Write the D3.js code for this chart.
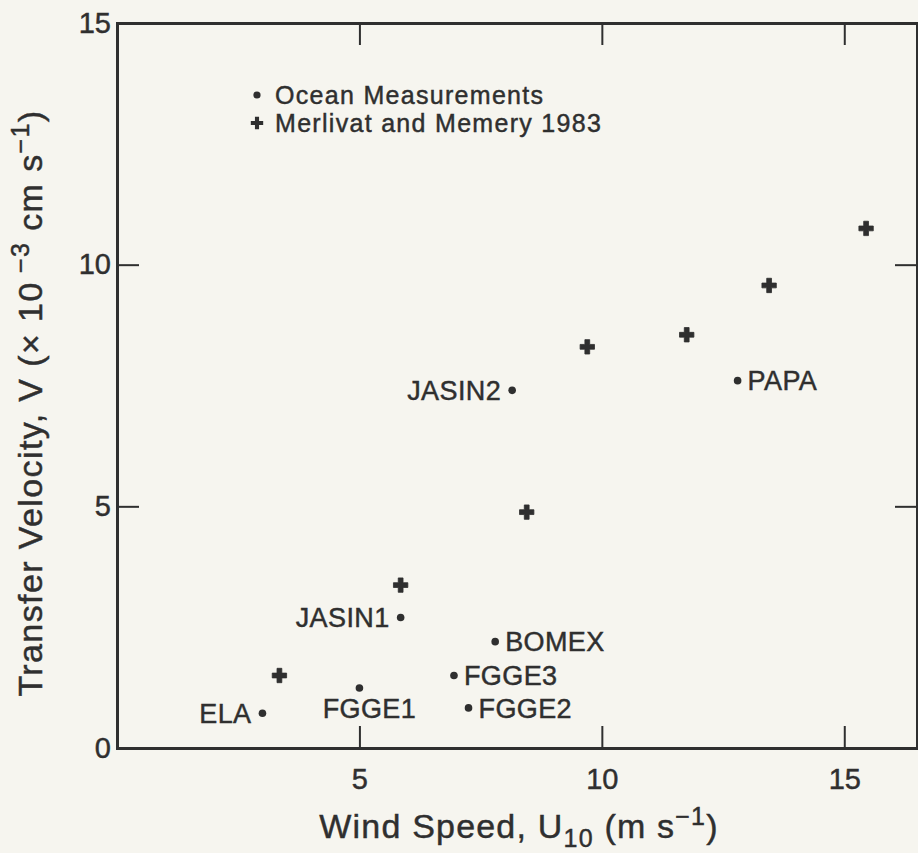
<!DOCTYPE html>
<html>
<head>
<meta charset="utf-8">
<script src="https://cdn.jsdelivr.net/npm/d3@7"></script>
<style>
  html, body { margin: 0; padding: 0; background: #f6f5ef; }
  svg { display: block; }
  text { font-family: "Liberation Sans", Arial, Helvetica, sans-serif; fill: #2f2f2f; stroke: #2f2f2f; stroke-width: 0.45px; }
</style>
</head>
<body>
<script>
'use strict';

// ocean measurements (dots)
const oceanNames = ['ELA', 'FGGE1', 'JASIN1', 'FGGE3', 'FGGE2', 'BOMEX', 'JASIN2', 'PAPA'];
const oceanWind  = [3.0, 5.0, 5.85, 6.95, 7.25, 7.8, 8.15, 12.8];
const oceanVel   = [0.72, 1.24, 2.7, 1.5, 0.83, 2.2, 7.4, 7.6];

// Merlivat and Memery 1983 (crosses)
const merlivatWind = [3.35, 5.85, 8.45, 9.7, 11.75, 13.45, 15.45];
const merlivatVel  = [1.5, 3.37, 4.88, 8.3, 8.55, 9.57, 10.75];

const xTicks = [5, 10, 15];
const yTicks = [0, 5, 10, 15];
const legendLabels = ['Ocean Measurements', 'Merlivat and Memery 1983'];

(function() {
  const W = 918, H = 853;
  const m = { left: 117, right: 917, top: 23, bottom: 748 };
  const ink = '#2f2f2f';

  const svg = d3.select('body').append('svg')
    .attr('width', W)
    .attr('height', H);

  svg.append('rect').attr('width', W).attr('height', H).attr('fill', '#f6f5ef');

  const x = d3.scaleLinear().domain([0, 16.5]).range([m.left, m.right]);
  const y = d3.scaleLinear().domain([0, 15]).range([m.bottom, m.top]);

  // frame axes, ticks pointing inward
  function styleAxis(g) {
    g.select('.domain').attr('stroke', ink).attr('stroke-width', 3);
    g.selectAll('.tick line').attr('stroke', ink).attr('stroke-width', 2);
    g.selectAll('.tick text').style('font-size', '29px').attr('fill', ink);
  }

  svg.append('g')
    .attr('transform', 'translate(0,' + m.bottom + ')')
    .call(d3.axisBottom(x).tickValues(xTicks).tickSizeInner(-22).tickSizeOuter(0).tickPadding(20))
    .call(styleAxis);

  svg.append('g')
    .attr('transform', 'translate(0,' + m.top + ')')
    .call(d3.axisTop(x).tickValues(xTicks).tickSizeInner(-22).tickSizeOuter(0).tickFormat(''))
    .call(styleAxis);

  svg.append('g')
    .attr('transform', 'translate(' + m.left + ',0)')
    .call(d3.axisLeft(y).tickValues(yTicks).tickSizeInner(-22).tickSizeOuter(0).tickPadding(6))
    .call(styleAxis)
    .selectAll('.tick line')
    .attr('display', (d) => (d === 0 || d === 15) ? 'none' : null);

  svg.append('g')
    .attr('transform', 'translate(' + m.right + ',0)')
    .call(d3.axisRight(y).tickValues(yTicks).tickSizeInner(-22).tickSizeOuter(0).tickFormat(''))
    .call(styleAxis);

  svg.selectAll('.domain').attr('stroke-linecap', 'square');

  // ocean data points
  const ocean = oceanNames.map((n, i) => ({ name: n, u: oceanWind[i], v: oceanVel[i] }));
  const merlivat = merlivatWind.map((u, i) => ({ u: u, v: merlivatVel[i] }));

  svg.selectAll('.dot')
    .data(ocean)
    .enter()
    .append('circle')
      .attr('class', 'dot')
      .attr('cx', (d) => x(d.u))
      .attr('cy', (d) => y(d.v))
      .attr('r', 3.8)
      .attr('fill', ink);

  const cross = d3.symbol().type(d3.symbolCross).size(115);
  svg.selectAll('.cross')
    .data(merlivat)
    .enter()
    .append('path')
      .attr('class', 'cross')
      .attr('d', cross)
      .attr('transform', (d) => 'translate(' + x(d.u) + ',' + y(d.v) + ')')
      .attr('fill', ink)
      .attr('stroke', ink)
      .attr('stroke-width', 0.8)
      .attr('stroke-linejoin', 'round');

  // where each name sits relative to its dot
  const side = { ELA: 'left', JASIN1: 'left', JASIN2: 'left', FGGE1: 'below' };
  svg.selectAll('.lbl')
    .data(ocean)
    .enter()
    .append('text')
      .attr('class', 'lbl')
      .attr('x', (d) => {
        const s = side[d.name];
        if (s === 'left') return x(d.u) - 11;
        if (s === 'below') return x(d.u) + 10;
        return x(d.u) + 10;
      })
      .attr('y', (d) => y(d.v) + (side[d.name] === 'below' ? 20 : 0))
      .attr('dy', '0.36em')
      .attr('text-anchor', (d) => side[d.name] === 'left' ? 'end' : side[d.name] === 'below' ? 'middle' : 'start')
      .style('font-size', '27px')
      .style('letter-spacing', '0.4px')
      .text((d) => d.name);

  // legend
  const leg = svg.append('g').attr('transform', 'translate(257,95)');
  leg.append('circle').attr('cx', 0).attr('cy', 0).attr('r', 3.6).attr('fill', ink);
  leg.append('path').attr('d', d3.symbol().type(d3.symbolCross).size(85)()).attr('transform', 'translate(0,28)').attr('fill', ink);
  leg.selectAll('.legtxt')
    .data(legendLabels)
    .enter()
    .append('text')
      .attr('x', 18)
      .attr('y', (d, i) => i * 28)
      .attr('dy', '0.35em')
      .style('font-size', '25px')
      .style('letter-spacing', '1.3px')
      .text((d) => d);

  // axis titles
  const xt = svg.append('text')
    .attr('x', 519)
    .attr('y', 838)
    .attr('text-anchor', 'middle')
    .style('font-size', '34px')
    .style('letter-spacing', '1.2px');
  xt.append('tspan').text('Wind Speed, U');
  xt.append('tspan').attr('dy', 9).style('font-size', '25px').text('10');
  xt.append('tspan').attr('dy', -9).text(' (m s');
  xt.append('tspan').attr('dy', -13).style('font-size', '25px').text('\u22121');
  xt.append('tspan').attr('dy', 13).text(')');

  const yt = svg.append('text')
    .attr('transform', 'translate(42,403) rotate(-90)')
    .attr('text-anchor', 'middle')
    .style('font-size', '34px')
    .style('letter-spacing', '1.4px');
  yt.append('tspan').text('Transfer Velocity, V (\u00d7 10');
  yt.append('tspan').attr('dy', -13).style('font-size', '25px').text(' \u22123');
  yt.append('tspan').attr('dy', 13).text(' cm s');
  yt.append('tspan').attr('dy', -13).style('font-size', '25px').text('\u22121');
  yt.append('tspan').attr('dy', 13).text(')');
})();
</script>
</body>
</html>
